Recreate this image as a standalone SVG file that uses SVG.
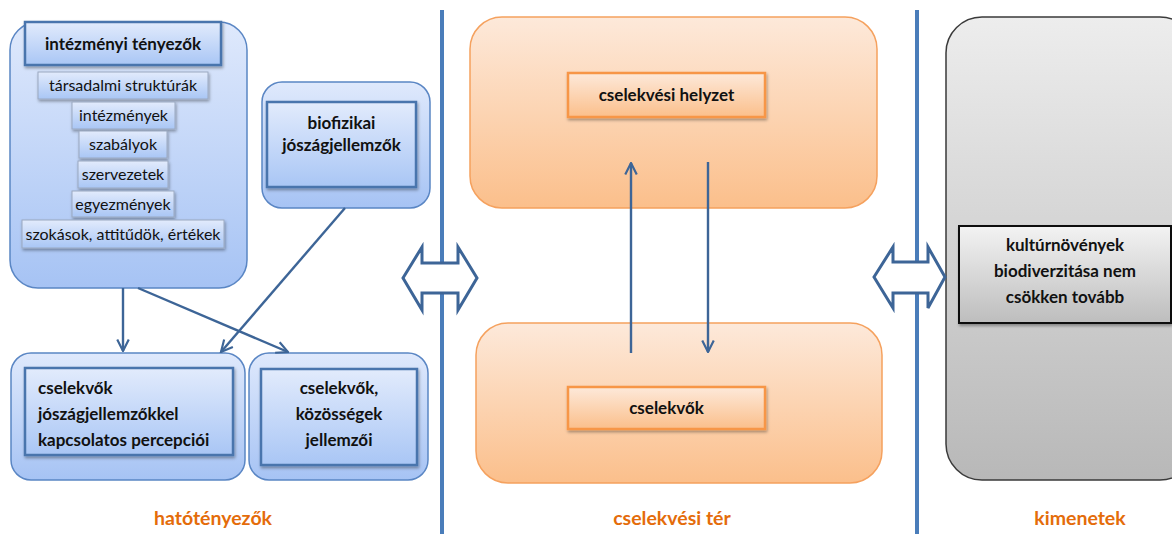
<svg xmlns="http://www.w3.org/2000/svg" width="1172" height="534" viewBox="0 0 1172 534">
<defs>
<linearGradient id="gBlue" x1="0" y1="0" x2="0" y2="1"><stop offset="0" stop-color="#dfe9fc"/><stop offset="1" stop-color="#a6c3f4"/></linearGradient>
<linearGradient id="gBlueIn" x1="0" y1="0" x2="0" y2="1"><stop offset="0" stop-color="#e2ebfc"/><stop offset="1" stop-color="#a9c6f5"/></linearGradient>
<linearGradient id="gOr" x1="0" y1="0" x2="0" y2="1"><stop offset="0" stop-color="#fde9da"/><stop offset="1" stop-color="#fbbf8b"/></linearGradient>
<linearGradient id="gGray" x1="0" y1="0" x2="0" y2="1"><stop offset="0" stop-color="#ededed"/><stop offset="1" stop-color="#b8b8b8"/></linearGradient>
<linearGradient id="gGrayIn" x1="0" y1="0" x2="0" y2="1"><stop offset="0" stop-color="#f3f3f3"/><stop offset="1" stop-color="#bdbdbd"/></linearGradient>
<filter id="sh" x="-10%" y="-10%" width="130%" height="140%"><feDropShadow dx="1" dy="2" stdDeviation="1.5" flood-color="#000" flood-opacity="0.35"/></filter>
<marker id="ah" viewBox="0 0 10 10" refX="9" refY="5" markerWidth="6" markerHeight="6" orient="auto" markerUnits="strokeWidth"><path d="M1,1 L9,5 L1,9" fill="none" stroke="#3d6597" stroke-width="1.5"/></marker>
<style>
.outerB{fill:url(#gBlue);stroke:#5a86c4;stroke-width:1.5}
.innerB{fill:url(#gBlueIn);stroke:#4a74ad;stroke-width:2.5;filter:url(#sh)}
.item{fill:url(#gBlueIn);stroke:#9aa8c0;stroke-width:1;filter:url(#sh)}
.outerO{fill:url(#gOr);stroke:#f5a15e;stroke-width:1.5}
.innerO{fill:url(#gOr);stroke:#f79646;stroke-width:2.5;filter:url(#sh)}
.t{font-family:Lato,"Liberation Sans",sans-serif;font-size:16px;fill:#111}
.b{font-family:Lato,"Liberation Sans",sans-serif;font-size:17px;font-weight:bold;fill:#111}
.lab{font-family:Lato,"Liberation Sans",sans-serif;font-size:19.5px;font-weight:bold;fill:#e46c0a}
.conn{stroke:#3d6597;stroke-width:2.4;fill:none}
.dbl{fill:#fff;stroke:#3d6597;stroke-width:3;stroke-linejoin:miter}
.sep{stroke:#4a7dba;stroke-width:4}
</style>
</defs>

<g id="separators">
<line class="sep" x1="442" y1="10" x2="442" y2="534"/>
<line class="sep" x1="917" y1="10" x2="917" y2="534"/>
</g>

<g id="intezmenyi">
<rect class="outerB" x="10" y="22" width="237" height="266" rx="28"/>
<rect class="innerB" x="25" y="22" width="196" height="43"/>
<text class="b" x="123" y="49.5" text-anchor="middle">intézményi tényezők</text>
<rect class="item" x="38" y="72" width="170" height="27"/>
<text class="t" x="123" y="91" text-anchor="middle">társadalmi struktúrák</text>
<rect class="item" x="72" y="102" width="103" height="27"/>
<text class="t" x="123.5" y="121" text-anchor="middle">intézmények</text>
<rect class="item" x="79" y="131" width="88" height="27"/>
<text class="t" x="123" y="150" text-anchor="middle">szabályok</text>
<rect class="item" x="78" y="161" width="90" height="27"/>
<text class="t" x="123" y="180" text-anchor="middle">szervezetek</text>
<rect class="item" x="72" y="191" width="102" height="26"/>
<text class="t" x="123" y="209.5" text-anchor="middle">egyezmények</text>
<rect class="item" x="22" y="220" width="202" height="28"/>
<text class="t" x="123" y="239.5" text-anchor="middle">szokások, attitűdök, értékek</text>
</g>

<g id="biofizikai">
<rect class="outerB" x="262" y="82" width="168" height="126" rx="20"/>
<rect class="innerB" x="267" y="102" width="149" height="85"/>
<text class="b" x="341.5" y="129" text-anchor="middle">biofizikai</text>
<text class="b" x="341.5" y="151" text-anchor="middle">jószágjellemzők</text>
</g>

<g id="percepcio">
<rect class="outerB" x="11" y="353" width="234" height="127" rx="20"/>
<rect class="innerB" x="25" y="368" width="208" height="87"/>
<text class="b" x="38" y="394">cselekvők</text>
<text class="b" x="38" y="420">jószágjellemzőkkel</text>
<text class="b" x="38" y="446">kapcsolatos percepciói</text>
</g>

<g id="kozossegek">
<rect class="outerB" x="249" y="353" width="179" height="127" rx="20"/>
<rect class="innerB" x="261" y="369" width="156" height="96"/>
<text class="b" x="339" y="394" text-anchor="middle">cselekvők,</text>
<text class="b" x="339" y="420" text-anchor="middle">közösségek</text>
<text class="b" x="339" y="446" text-anchor="middle">jellemzői</text>
</g>

<g id="helyzet">
<rect class="outerO" x="470" y="17" width="407" height="191" rx="32"/>
<rect class="innerO" x="568" y="73" width="197" height="44"/>
<text class="b" x="666.5" y="100.5" text-anchor="middle">cselekvési helyzet</text>
</g>

<g id="cselekvok">
<rect class="outerO" x="476" y="323" width="406" height="160" rx="32"/>
<rect class="innerO" x="568" y="387" width="197" height="42"/>
<text class="b" x="666.5" y="413.5" text-anchor="middle">cselekvők</text>
</g>

<g id="kimenet">
<rect x="946" y="17" width="250" height="463" rx="36" fill="url(#gGray)" stroke="#3a3a3a" stroke-width="1.5"/>
<rect x="959" y="226" width="212" height="97" fill="url(#gGrayIn)" stroke="#111" stroke-width="2" filter="url(#sh)"/>
<text class="b" x="1065" y="251" text-anchor="middle">kultúrnövények</text>
<text class="b" x="1065" y="277" text-anchor="middle">biodiverzitása nem</text>
<text class="b" x="1065" y="303" text-anchor="middle">csökken tovább</text>
</g>

<g id="connectors">
<line class="conn" x1="123" y1="288" x2="123" y2="351" marker-end="url(#ah)"/>
<line class="conn" x1="138" y1="288" x2="288" y2="352" marker-end="url(#ah)"/>
<line class="conn" x1="345" y1="208" x2="221" y2="352" marker-end="url(#ah)"/>
<line class="conn" x1="631" y1="353" x2="631" y2="163" marker-end="url(#ah)"/>
<line class="conn" x1="708" y1="162" x2="708" y2="352" marker-end="url(#ah)"/>
<polygon class="dbl" points="403,278 422,247 422,263 458,263 458,247 477,278 458,310 458,293 422,293 422,310"/>
<polygon class="dbl" points="874,277 893,247 893,262 928,262 928,247 945,277 928,308 928,293 893,293 893,308"/>
</g>

<g id="labels">
<text class="lab" x="213" y="525" text-anchor="middle">hatótényezők</text>
<text class="lab" x="672" y="525" text-anchor="middle">cselekvési tér</text>
<text class="lab" x="1080" y="525" text-anchor="middle">kimenetek</text>
</g>
</svg>
